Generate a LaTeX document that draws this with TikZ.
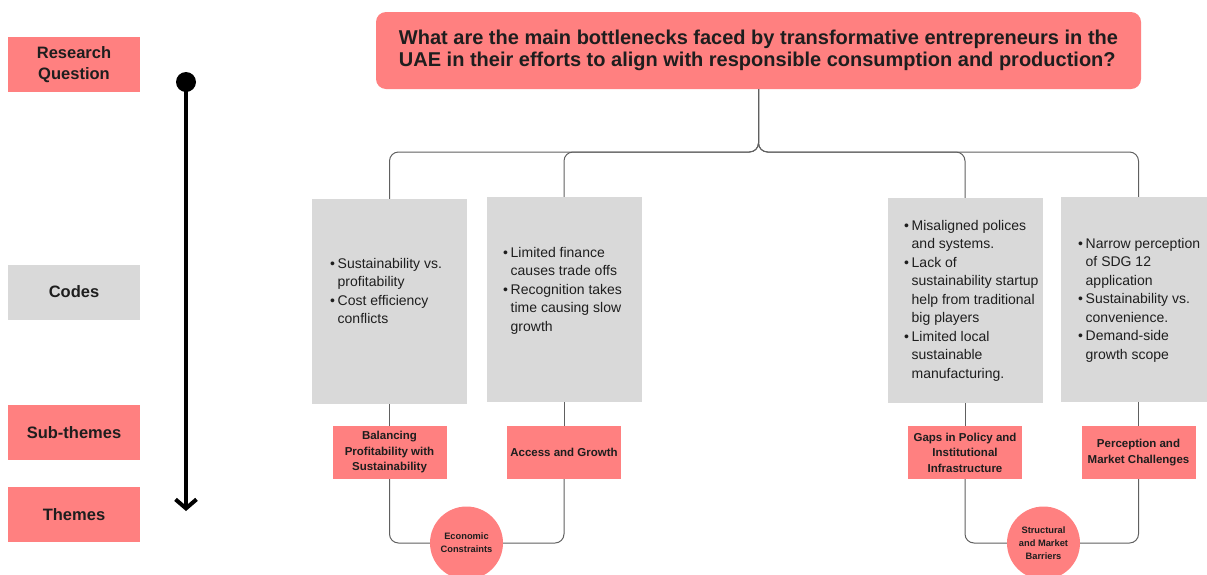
\documentclass[tikz,border=0pt]{standalone}
\usepackage{fontspec}
\setmainfont{Liberation Sans}
\usetikzlibrary{arrows.meta}
\definecolor{salmonRed}{RGB}{255,128,128}
\definecolor{codeGray}{RGB}{217,217,217}
\definecolor{lineGray}{RGB}{96,96,96}
\definecolor{inkDark}{RGB}{30,30,30}

\begin{document}
\begin{tikzpicture}[x=1pt,y=-1pt,
  level/.style={fill=#1,minimum width=132pt,minimum height=55pt,inner sep=0pt,align=center,text=inkDark,
    font=\fontsize{16.5}{21}\selectfont\bfseries},
  codebox/.style={fill=codeGray,minimum width=155pt,minimum height=205pt,inner sep=0pt},
  codetext/.style={anchor=north west,inner sep=0pt,align=left,text=inkDark,font=\fontsize{14}{18.5}\selectfont},
  subbox/.style={fill=salmonRed,minimum width=114pt,minimum height=53pt,inner sep=0pt,align=center,text=inkDark,
    font=\fontsize{11.5}{15.5}\selectfont\bfseries},
  themedot/.style={circle,fill=salmonRed,minimum size=73pt,inner sep=0pt,align=center,text=inkDark,
    font=\fontsize{9.3}{12.8}\selectfont\bfseries},
  conn/.style={draw=lineGray,line width=1pt,rounded corners=9pt}]

  \useasboundingbox (0,0) rectangle (1207,574);

  \newcommand{\bl}{\makebox[7.5pt][l]{\textbullet}}
  \newcommand{\ind}{\hspace*{7.5pt}}

  % levels of the analysis
  \begin{scope}
    \node[level=salmonRed] (rq) at (74,64.5) {Research\\Question};
    \node[level=codeGray] (codes) at (74,292) {Codes};
    \node[level=salmonRed] (subs) at (74,432.5) {Sub-themes};
    \node[level=salmonRed] (themes) at (74,514.5) {Themes};
%
    \node[circle,fill=black,minimum size=20pt,inner sep=0pt] (start) at (186,82) {};
    \coordinate (finish) at (186,511);
    \draw[line width=4pt,-{Straight Barb[length=9pt,width=21pt]}] (start.center) -- (finish);
  \end{scope}

  % question
  \node[fill=salmonRed,rounded corners=10pt,minimum width=765pt,minimum height=77pt,align=left,text=inkDark,
    font=\fontsize{20}{22}\selectfont\bfseries] (quest) at (758.5,50.5)
    {What are the main bottlenecks faced by transformative entrepreneurs in the\\
     UAE in their efforts to align with responsible consumption and production?};

  % codes
  \begin{scope}
    \node[codebox] (c1) at (389.5,301.5) {};
    \node[codebox] (c2) at (564,299.5) {};
    \node[codebox] (c3) at (965,300.5) {};
    \node[codebox] (c4) at (1138.5,299.5) {};
%
    \node[codetext] (c1t) at (330,258) {\bl Sustainability vs.\\\ind profitability\\\bl Cost efficiency\\\ind conflicts};
    \node[codetext] (c2t) at (503,247) {\bl Limited finance\\\ind causes trade offs\\\bl Recognition takes\\\ind time causing slow\\\ind growth};
    \node[codetext] (c3t) at (904,220) {\bl Misaligned polices\\\ind and systems.\\\bl Lack of\\\ind sustainability startup\\
      \ind help from traditional\\\ind big players\\\bl Limited local\\\ind sustainable\\\ind manufacturing.};
    \node[codetext] (c4t) at (1078,238) {\bl Narrow perception\\\ind of SDG 12\\\ind application\\\bl Sustainability vs.\\
      \ind convenience.\\\bl Demand-side\\\ind growth scope};
  \end{scope}

  % sub-themes and themes
  \node[subbox] (s1) at (389.5,452.5) {Balancing\\Profitability with\\Sustainability};
  \node[subbox] (s2) at (564,452.5) {Access and Growth};
  \node[subbox] (s3) at (965,452.5) {Gaps in Policy and\\Institutional\\Infrastructure};
  \node[subbox] (s4) at (1138.5,452.5) {Perception and\\Market Challenges};
%
  \node[themedot] (t1) at (466.5,543) {Economic\\Constraints};
  \node[themedot] (t2) at (1043.5,543) {Structural\\and Market\\Barriers};

  % connectors
  \coordinate (split) at (758.5,152);
  \foreach \n in {1,...,4} {
    \draw[conn] (quest.south) -- (split) -| (c\n.north);
    \draw[conn] (c\n.south) -- (s\n.north);
  }
  \draw[conn] (s1.south) |- (t1.west);
  \draw[conn] (s2.south) |- (t1.east);
  \draw[conn] (s3.south) |- (t2.west);
  \draw[conn] (s4.south) |- (t2.east);

\end{tikzpicture}
\end{document}
